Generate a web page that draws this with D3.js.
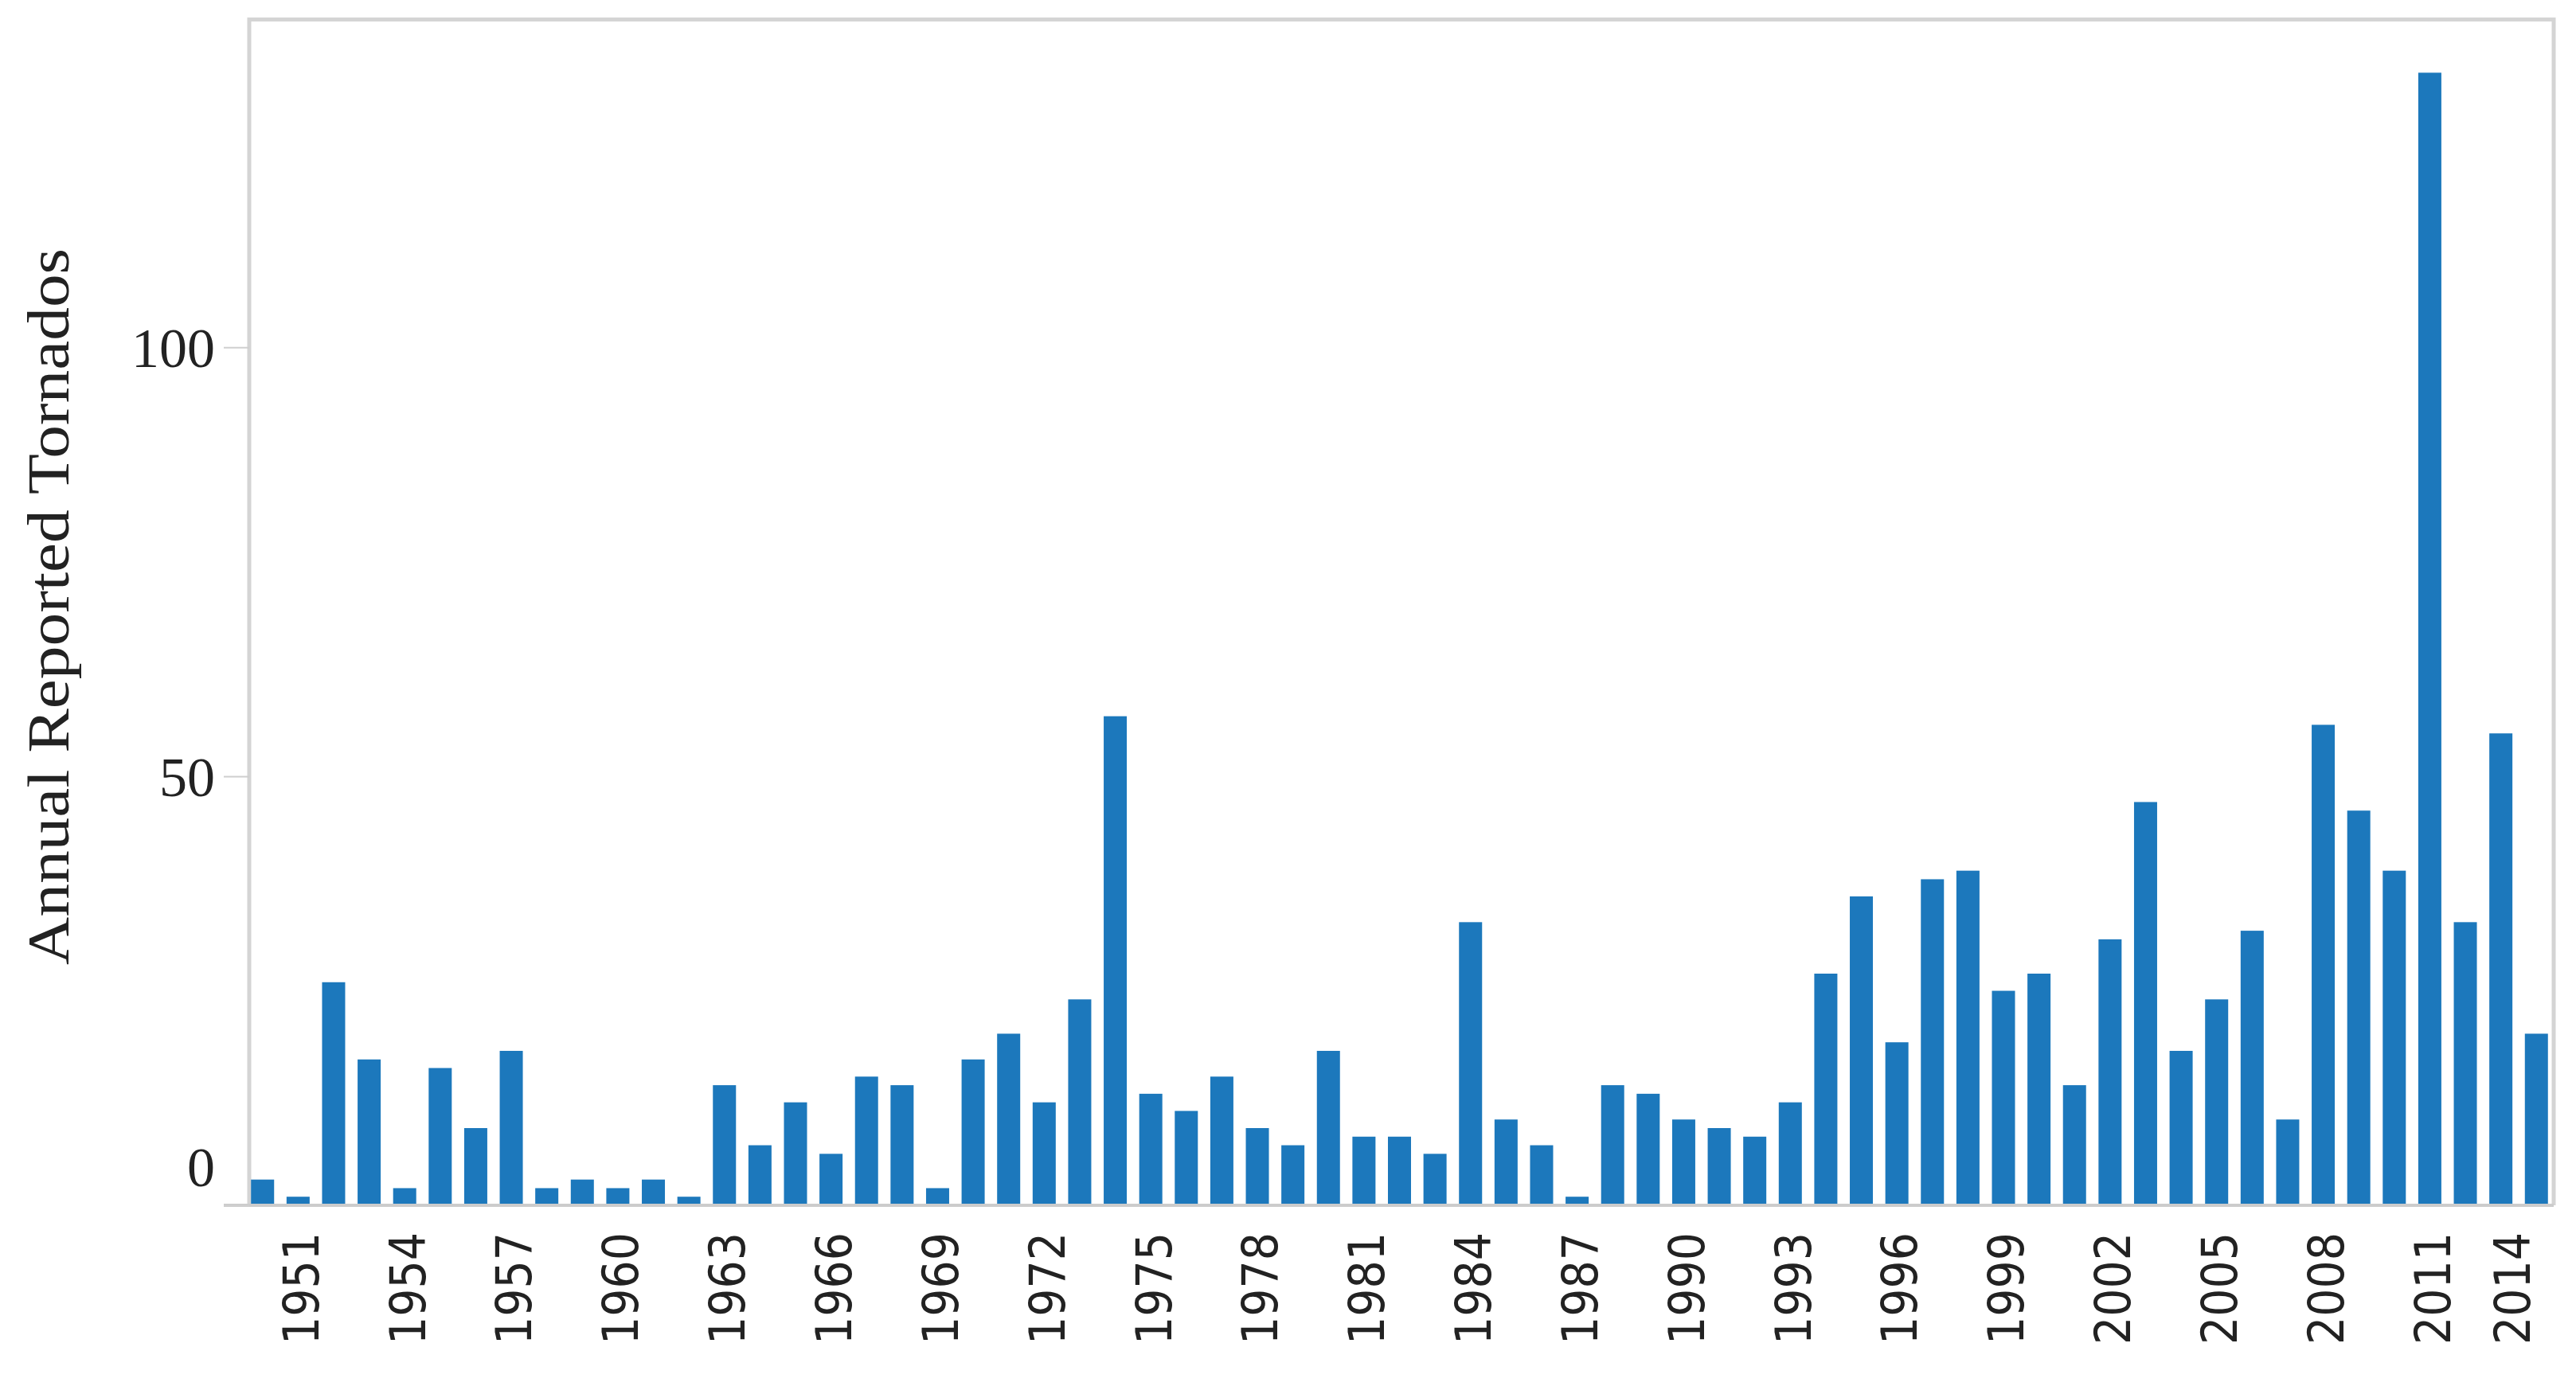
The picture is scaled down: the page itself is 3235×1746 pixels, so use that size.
<!DOCTYPE html>
<html>
<head>
<meta charset="utf-8">
<script src="https://cdn.jsdelivr.net/npm/d3@7"></script>
<style>
    html, body { margin: 0; padding: 0; background: #fff; }
    .axis-label { font-family: "Liberation Serif", serif; font-size: 74px; fill: #222; }
    .y-axis text { font-family: "Liberation Serif", serif; font-size: 70px; fill: #222; }
    .x-axis text { font-family: "DejaVu Sans", sans-serif; font-size: 62px; fill: #222; }
    .frame { stroke: #d4d4d4; stroke-width: 5; fill: none; }
</style>
</head>
<body>
<div id="tornadoChart"></div>
<script>
"use strict"

// annual reported tornados, 1950 - 2014
const years = d3.range(1950, 2015)
const tornadoCounts = [
    3, 1, 26, 17, 2, 16, 9, 18, 2, 3,          // 1950s
    2, 3, 1, 14, 7, 12, 6, 15, 14, 2,          // 1960s
    17, 20, 12, 24, 57, 13, 11, 15, 9, 7,      // 1970s
    18, 8, 8, 6, 33, 10, 7, 1, 14, 13,         // 1980s
    10, 9, 8, 12, 27, 36, 19, 38, 39, 25,      // 1990s
    27, 14, 31, 47, 18, 24, 32, 10, 56, 46,    // 2000s
    39, 132, 33, 55, 20                        // 2010s
]
const yTicks = [0, 50, 100]
const xTickYears = d3.range(1951, 2015, 3)

/*
    tornado bar chart
    * bars: builds the yearly bar chart
*/
const tornados = (function() {

    function bars(id, opts = { w: 3235, h: 1746 }) {
        let chart = Object.assign({
            targetId: id,
            data: years.map((yr, i) => ({ year: yr, count: tornadoCounts[i] })),
            scales: { x: null, y: null },
            yLabel: 'Annual Reported Tornados',
            yMax: 138.2
        }, opts)

        chart.frame = { l: 313, r: 3207, t: 24.5, b: 1514 }

        function scaler() {
            chart.scales.x = d3.scaleBand()
                .domain(years)
                .range([chart.frame.l, chart.frame.r - 5])
                .paddingInner(0.35)
                .paddingOuter(0.05)
            chart.scales.y = d3.scaleLinear()
                .domain([0, chart.yMax])
                .range([chart.frame.b, chart.frame.t])
        }

        function plotter() {
            const x = chart.scales.x, y = chart.scales.y
            let svg = d3.select(chart.targetId)
                        .append("svg")
                            .attr("width", chart.w)
                            .attr("height", chart.h)
                            .attr("viewBox", `0 0 ${ chart.w } ${ chart.h }`)
                            .style("display", "block")

            // frame: top, right and left border
            svg.append("path")
                .attr("class", "frame")
                .attr("d", `M${ chart.frame.l },${ chart.frame.b } V${ chart.frame.t } H${ chart.frame.r } V${ chart.frame.b }`)

            // bars
            svg.selectAll(".bar")
                .data(chart.data)
                .enter().append("rect")
                    .attr("class", "bar")
                    .attr("x", d => x(d.year))
                    .attr("width", x.bandwidth())
                    .attr("y", d => y(d.count))
                    .attr("height", d => y(0) - y(d.count))
                    .attr("fill", "#1c78bc")

            // baseline
            svg.append("line")
                .attr("x1", chart.frame.l - 32)
                .attr("x2", chart.frame.r)
                .attr("y1", y(0))
                .attr("y2", y(0))
                .attr("stroke", "#cccccc")
                .attr("stroke-width", 4)

            // y-axis
            let yAxis = svg.append("g")
                .attr("class", "axis y-axis")
                .attr("transform", `translate(${ chart.frame.l }, 0)`)
                .call(d3.axisLeft(y).tickValues(yTicks).tickSize(32).tickPadding(11).tickFormat(d3.format("d")))
            yAxis.select(".domain").remove()
            yAxis.selectAll(".tick line").attr("stroke", "#cfcfcf").attr("stroke-width", 2)
            yAxis.selectAll(".tick text")
                .attr("font-family", null).attr("font-size", null)
                .attr("dy", d => d === 0 ? "-0.35em" : "0.35em")

            // x-axis, labels every third year
            let xAxis = svg.append("g")
                .attr("class", "axis x-axis")
                .attr("transform", `translate(0, ${ chart.frame.b })`)
                .call(d3.axisBottom(x).tickValues(xTickYears).tickSize(0).tickPadding(0))
            xAxis.select(".domain").remove()
            xAxis.selectAll(".tick")
                .attr("transform", d => `translate(${ Math.min(x(d) + x.bandwidth() / 2 + 3, chart.frame.r - 52) }, 0)`)
            xAxis.selectAll(".tick text")
                .attr("font-family", null).attr("font-size", null)
                .attr("text-anchor", "end")
                .attr("y", 0).attr("dy", "0.36em")
                .attr("transform", "translate(0, 34) rotate(-90)")
                .attr("textLength", 141)
                .attr("lengthAdjust", "spacingAndGlyphs")

            // y-axis label
            svg.append("text")
                .text(chart.yLabel)
                .attr("class", "axis-label")
                .attr("text-anchor", "middle")
                .attr("textLength", 900)
                .attr("lengthAdjust", "spacingAndGlyphs")
                .attr("transform", `translate(86, 762) rotate(-90)`)
        }

        scaler()
        plotter()
        return chart
    }

    return {
        bars: bars
    }

}())

tornados.bars("#tornadoChart")
</script>
</body>
</html>
